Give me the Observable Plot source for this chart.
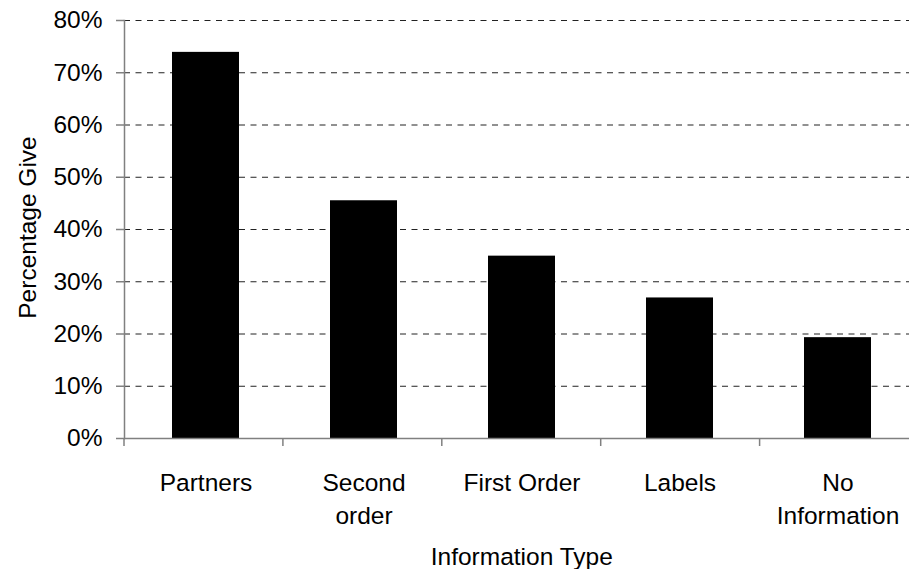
<!DOCTYPE html>
<html>
<head>
<meta charset="utf-8">
<script src="https://cdn.jsdelivr.net/npm/d3@7"></script>
<script src="https://cdn.jsdelivr.net/npm/@observablehq/plot@0.6"></script>
<style>
  html, body { margin: 0; padding: 0; background: #fff; overflow: hidden; }
  #chart svg { display: block; }
</style>
</head>
<body>
<div id="chart"></div>
<script>
// ---- data ----
const categories = ["Partners", "Second order", "First Order", "Labels", "No Information"];
const tickLabels = ["Partners", "Second\norder", "First Order", "Labels", "No\nInformation"];
const values = [0.739, 0.455, 0.349, 0.269, 0.193];
const yTicks = [0, 0.1, 0.2, 0.3, 0.4, 0.5, 0.6, 0.7, 0.8];
const gridTicks = [0.1, 0.2, 0.3, 0.4, 0.5, 0.6, 0.7, 0.8];
const xTitle = ["Information Type"];
const yTitle = ["Percentage Give"];

const data = categories.map((c, i) => ({ category: c, label: tickLabels[i], value: values[i] }));

const FONT = "'Liberation Sans', Arial, Helvetica, sans-serif";
const FS = 24.5;
const AXIS = "#808080";

// tick marks at category boundaries (derived from the frame dimensions)
function boundaryTicks(index, scales, vals, dims) {
  const g = d3.create("svg:g");
  const n = categories.length;
  const x0 = dims.marginLeft;
  const step = (dims.width - dims.marginLeft - dims.marginRight) / n;
  const y0 = dims.height - dims.marginBottom;
  for (let i = 0; i <= n; i++) {
    const x = x0 + i * step;
    g.append("line")
      .attr("x1", x).attr("x2", x)
      .attr("y1", y0).attr("y2", y0 + 8)
      .attr("stroke", AXIS).attr("stroke-width", 1.5);
  }
  return g.node();
}

const plot = Plot.plot({
  width: 909,
  height: 569,
  marginLeft: 124,
  marginRight: -9.5,
  marginTop: 20,
  marginBottom: 131,
  style: { fontFamily: FONT, fontSize: FS + "px", background: "#fff", color: "#000", overflow: "hidden" },
  x: { domain: categories, paddingInner: 0.579, paddingOuter: 0.29, axis: null },
  y: { domain: [0, 0.8], axis: null },
  marks: [
    Plot.ruleY(gridTicks, { y: d => d, stroke: "#222", strokeWidth: 1, strokeDasharray: "6,5.5" }),
    Plot.barY(data, { x: "category", y: "value", fill: "#000" }),
    Plot.frame({ anchor: "left", stroke: AXIS, strokeWidth: 1.5 }),
    Plot.ruleY([0], { stroke: AXIS, strokeWidth: 1.5 }),
    Plot.axisY({
      ticks: yTicks,
      tickFormat: d3.format(".0%"),
      tickSize: 8,
      tickPadding: 14,
      stroke: AXIS,
      strokeWidth: 1.5,
      fontSize: FS,
      label: null
    }),
    Plot.ruleX(categories, { x: d => d, render: boundaryTicks }),
    Plot.text(data, {
      x: "category",
      text: "label",
      frameAnchor: "bottom",
      lineAnchor: "top",
      lineHeight: 1.36,
      dy: 29,
      fontSize: FS,
      fill: "#000"
    }),
    Plot.text(xTitle, {
      frameAnchor: "bottom",
      lineAnchor: "middle",
      dy: 118.5,
      fontSize: FS,
      fill: "#000"
    }),
    Plot.text(yTitle, {
      frameAnchor: "left",
      textAnchor: "middle",
      lineAnchor: "middle",
      rotate: -90,
      dx: -96,
      dy: -2,
      fontSize: FS,
      fill: "#000"
    })
  ]
});

document.getElementById("chart").appendChild(plot);
</script>
</body>
</html>
